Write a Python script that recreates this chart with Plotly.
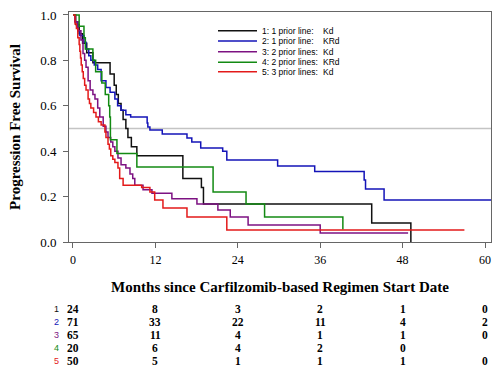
import plotly.graph_objects as go

# ---------------- data ----------------
months_ticks = [0, 12, 24, 36, 48, 60]
y_ticks = [0.0, 0.2, 0.4, 0.6, 0.8, 1.0]

group_names = ["1: 1 prior line:", "2: 1 prior line:", "3: 2 prior lines:",
               "4: 2 prior lines:", "5: 3 prior lines:"]
regimens = ["Kd", "KRd", "Kd", "KRd", "Kd"]
colors = ["#111111", "#1414b8", "#7d1282", "#138a13", "#e31a1a"]

t1 = [0, 0.4, 0.9, 1.4, 2.0, 2.9, 5.4, 6.0, 6.3, 6.6, 7.0, 7.3, 7.7, 8.0, 8.5,
      9.3, 16.0, 18.7, 19.0, 43.5, 49.2]
s1 = [1.0, 0.958, 0.917, 0.875, 0.833, 0.79, 0.74, 0.69, 0.65, 0.61, 0.58, 0.54,
      0.50, 0.46, 0.42, 0.38, 0.28, 0.24, 0.167, 0.084, 0.0]
end1 = 49.2

t2 = [0, 0.3, 0.7, 1.0, 1.6, 1.9, 2.3, 2.6, 3.1, 3.6, 4.1, 4.8, 5.4, 6.1, 6.5,
      7.0, 7.7, 8.4, 10.8, 10.9, 11.2, 13.0, 16.6, 17.3, 18.6, 21.8, 22.4, 29.8,
      35.2, 42.4, 42.6, 45.3]
s2 = [1.0, 0.97, 0.93, 0.91, 0.88, 0.85, 0.82, 0.80, 0.78, 0.76, 0.71, 0.68,
      0.66, 0.63, 0.60, 0.58, 0.56, 0.55, 0.524, 0.507, 0.493, 0.476, 0.458,
      0.44, 0.414, 0.40, 0.361, 0.335, 0.31, 0.273, 0.233, 0.185]
end2 = 61.5

t3 = [0, 0.3, 0.73, 1.16, 1.46, 1.7, 1.9, 2.2, 2.5, 2.9, 3.2, 3.6, 3.9, 4.4,
      4.8, 5.1, 5.5, 5.8, 6.1, 6.55, 7.0, 7.7, 8.3, 8.7, 9.0, 10.2, 11.5, 14.4,
      18.05, 21.1, 22.9, 25.5, 36.0]
s3 = [1.0, 0.97, 0.93, 0.89, 0.83, 0.80, 0.77, 0.71, 0.67, 0.65, 0.63, 0.59,
      0.55, 0.51, 0.485, 0.46, 0.44, 0.42, 0.40, 0.37, 0.34, 0.326, 0.30, 0.28,
      0.25, 0.23, 0.215, 0.19, 0.167, 0.141, 0.11, 0.075, 0.04]
end3 = 48.8

t4 = [0, 0.9, 1.6, 1.8, 2.9, 3.3, 4.2, 4.7, 5.2, 5.35, 5.45, 6.4, 9.3, 20.4,
      25.2, 27.9, 39.3]
s4 = [1.0, 0.95, 0.90, 0.85, 0.80, 0.75, 0.70, 0.65, 0.60, 0.55, 0.45, 0.39,
      0.33, 0.22, 0.167, 0.11, 0.055]
end4 = 39.3

t5 = [0, 0.3, 0.5, 0.7, 0.9, 1.0, 1.1, 1.2, 1.35, 1.5, 1.7, 1.9, 2.2, 2.4, 2.6,
      3.0, 3.35, 3.7, 4.1, 4.65, 4.8, 5.1, 5.3, 5.5, 5.8, 6.1, 6.55, 6.8, 7.3,
      10.0, 11.2, 11.9, 13.1, 16.6, 22.4]
s5 = [1.0, 0.96, 0.94, 0.90, 0.87, 0.84, 0.81, 0.78, 0.75, 0.72, 0.69, 0.67,
      0.63, 0.61, 0.59, 0.57, 0.55, 0.53, 0.515, 0.485, 0.46, 0.43, 0.41, 0.38,
      0.365, 0.35, 0.326, 0.28, 0.25, 0.24, 0.22, 0.185, 0.15, 0.11, 0.053]
end5 = 57.0

risk1 = ["24", "8", "3", "2", "1", "0"]
risk2 = ["71", "33", "22", "11", "4", "2"]
risk3 = ["65", "11", "4", "1", "1", "0"]
risk4 = ["20", "6", "4", "2", "0", ""]
risk5 = ["50", "5", "1", "1", "1", "0"]

curves = [(t1, s1, end1), (t2, s2, end2), (t3, s3, end3), (t4, s4, end4), (t5, s5, end5)]
risks = [risk1, risk2, risk3, risk4, risk5]

# ---------------- figure ----------------
W, H = 500, 377
L, R, T, B = 69, 491, 12, 242   # plot-area pixel box
pw, ph = R - L, B - T

def px_x(px):
    return (px - L) / pw

def px_y(py):
    return (B - py) / ph

fig = go.Figure()
for (t, s, end), c, nm, rg in zip(curves, colors, group_names, regimens):
    xs = list(t)
    ys = list(s)
    if end > xs[-1]:
        xs.append(end)
        ys.append(ys[-1])
    fig.add_trace(go.Scatter(x=xs, y=ys, mode="lines", name=nm + " " + rg,
                             line=dict(shape="hv", width=1.5, color=c),
                             hoverinfo="skip"))

serif = "Liberation Serif, Times New Roman, serif"
sans = "Liberation Sans, Arial, sans-serif"

fig.update_layout(
    template="none",
    width=W, height=H,
    margin=dict(l=L, r=W - R, t=T, b=H - B, pad=0),
    paper_bgcolor="white", plot_bgcolor="white",
    showlegend=False,
    xaxis=dict(range=[-0.58, 60.87], tickvals=months_ticks,
               ticktext=[str(v) for v in months_ticks], automargin=False,
               ticks="outside", ticklen=5, tickcolor="#666", tickwidth=1,
               showline=True, linecolor="#666", linewidth=1, mirror=True,
               showgrid=False, zeroline=False, ticklabelstandoff=2,
               tickfont=dict(family=serif, size=12, color="black"),
               title=dict(text="Months since Carfilzomib-based Regimen Start Date",
                          font=dict(family=serif, size=15, color="black", weight="bold"),
                          standoff=15)),
    yaxis=dict(range=[0, 1.013], tickvals=y_ticks,
               ticktext=["%.1f" % v for v in y_ticks], automargin=False,
               ticks="outside", ticklen=5, tickcolor="#666", tickwidth=1,
               showline=True, linecolor="#666", linewidth=1, mirror=True,
               showgrid=False, zeroline=False, ticklabelstandoff=4,
               tickfont=dict(family=serif, size=13, color="black"),
               title=dict(text="Progression Free Survival",
                          font=dict(family=serif, size=15, color="black", weight="bold"),
                          standoff=15)),
)

# 50% reference line
fig.add_shape(type="line", xref="paper", yref="y", x0=0, x1=1, y0=0.5, y1=0.5,
              line=dict(color="#c4c4c4", width=1.5), layer="below")

# manual compact legend
leg_rows_py = [30.7, 41.0, 51.7, 62.3, 71.7]
for py, c, nm, rg in zip(leg_rows_py, colors, group_names, regimens):
    fig.add_shape(type="line", xref="paper", yref="paper",
                  x0=px_x(218), x1=px_x(257), y0=px_y(py), y1=px_y(py),
                  line=dict(color=c, width=1.5))
    fig.add_annotation(xref="paper", yref="paper", x=px_x(261), y=px_y(py),
                       text=nm, showarrow=False, xanchor="left", yanchor="middle",
                       borderpad=0,
                       font=dict(family=sans, size=8.5, color="black"))
    fig.add_annotation(xref="paper", yref="paper", x=px_x(322), y=px_y(py),
                       text=rg, showarrow=False, xanchor="left", yanchor="middle",
                       borderpad=0,
                       font=dict(family=sans, size=8.5, color="black"))

# numbers-at-risk table
risk_rows_py = [309.3, 322.3, 335.0, 348.3, 360.7]
for i, (py, c, row) in enumerate(zip(risk_rows_py, colors, risks)):
    fig.add_annotation(xref="paper", yref="paper", x=px_x(56), y=px_y(py),
                       text=str(i + 1), showarrow=False, xanchor="center",
                       yanchor="middle", borderpad=0,
                       font=dict(family=sans, size=9, color=c))
    for m, v in zip(months_ticks, row):
        if v == "":
            continue
        fig.add_annotation(xref="x", yref="paper", x=m, y=px_y(py), text=v,
                           showarrow=False, xanchor="center", yanchor="middle",
                           borderpad=0,
                           font=dict(family=serif, size=11.5, color="black", weight="bold"))

fig.write_html("out.html", config={"displayModeBar": False},
               post_script="document.body.style.margin='0';")
